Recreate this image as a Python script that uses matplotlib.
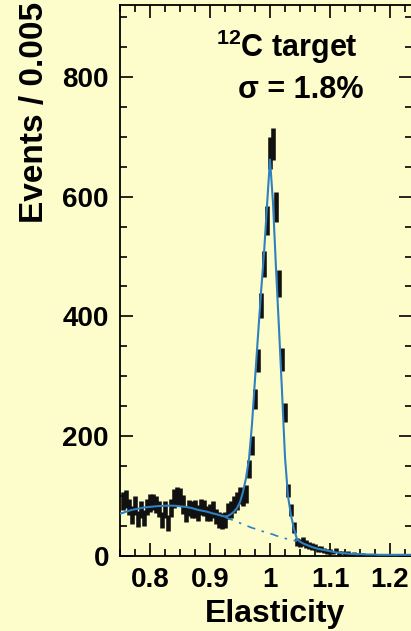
import numpy as np
import matplotlib
matplotlib.use("Agg")
import matplotlib.pyplot as plt
from matplotlib.ticker import MultipleLocator, FuncFormatter

plt.rcParams['font.family'] = ['Liberation Sans', 'DejaVu Sans']
plt.rcParams['font.weight'] = 'bold'
plt.rcParams['mathtext.fontset'] = 'custom'
plt.rcParams['mathtext.rm'] = 'Liberation Sans:bold'
plt.rcParams['mathtext.bf'] = 'Liberation Sans:bold'

# histogram, 0.005 wide bins, centres from 0.755 to 1.235
bin_first = 0.755
bin_width = 0.005
counts = [
    92, 95, 82, 68, 85, 62, 78, 63, 82, 88,
    90, 86, 78, 60, 78, 55, 80, 96, 100, 98,
    86, 70, 80, 78, 79, 72, 82, 80, 71, 72,
    77, 66, 60, 58, 60, 75, 78, 86, 92, 101,
    98, 104, 146, 185, 262, 327, 418, 488, 560, 673,
    688, 583, 455, 328, 239, 109, 77, 48, 23, 22,
    24, 20, 18, 16, 15, 12, 11, 9, 7, 8,
    6, 10, 5, 6, 4, 5, 3, 4, 3, 2,
    3, 2, 2, 1, 2, 1, 2, 1, 1, 1,
    2, 1, 1, 1, 1, 1, 1,
]
errors = [
    15, 15, 13, 15, 16, 13, 14, 13, 14, 15,
    14, 15, 13, 13, 14, 13, 15, 16, 15, 15,
    16, 14, 14, 14, 15, 13, 14, 14, 13, 14,
    14, 13, 13, 13, 13, 13, 14, 14, 15, 15,
    15, 15, 15, 16, 17, 19, 21, 22, 24, 26,
    27, 25, 22, 19, 16, 11, 10, 9, 7, 7,
    7, 6, 6, 6, 5, 5, 5, 4, 4, 4,
    3, 4, 3, 3, 3, 3, 2, 3, 2, 2,
    2, 2, 2, 1, 2, 1, 2, 1, 1, 1,
    2, 1, 1, 1, 1, 1, 1,
]

# fit: peak + background, sampled every 0.005 from 0.75
fit_first = 0.75
fit_total = [
    71, 72, 74, 75.5, 77, 78, 79, 80, 81, 81.5,
    82, 82.5, 83, 83.5, 83.5, 84, 84, 84, 84, 83.5,
    83, 82.5, 82, 81, 80, 78.5, 77, 76, 75, 74,
    72.5, 71, 70, 68.5, 67, 66, 67, 70, 74, 80,
    90, 107, 130, 162, 220, 295, 368, 440, 505, 585,
    662, 590, 480, 380, 275, 165, 100, 68, 45, 28,
    24, 21, 19, 17, 15, 13.5, 12, 11, 10, 9,
    8, 7, 6, 5.5, 5, 4.5, 4, 3.5, 3.5, 3,
    3, 3, 2.5, 2.5, 2.5, 2.5, 2, 2, 2, 2,
    2, 2, 2, 2, 2, 2, 2, 2,
]
# background part under the peak, from 0.925 to 1.045
bkg_first = 0.925
fit_bkg = [
    65, 63, 61, 59, 57, 55, 53, 51, 49, 47,
    45.5, 44, 42, 40.5, 39, 37.5, 36, 34, 32.5, 31,
    29.5, 28, 27, 26, 25,
]

x_data = bin_first + bin_width * np.arange(len(counts))
x_fit = fit_first + bin_width * np.arange(len(fit_total))
x_bkg = bkg_first + bin_width * np.arange(len(fit_bkg))

bg = '#fdfdcc'
blue = '#2e80bf'

fig = plt.figure(figsize=(4.11, 6.31), dpi=100, facecolor=bg)
ax = fig.add_axes([120 / 411, 75 / 631, 291.6 / 411, 551 / 631])
ax.set_facecolor(bg)

ax.errorbar(x_data, counts, yerr=errors, fmt='none', ecolor='#111111',
            elinewidth=3.3, capsize=0, zorder=2)
ax.plot(x_fit, fit_total, color=blue, lw=1.5, zorder=3)
ax.plot(x_bkg, fit_bkg, color=blue, lw=1.2, dashes=(5, 4, 1.5, 4), zorder=3)

ax.set_xlim(0.75, 1.236)
ax.set_ylim(0, 920)

ax.xaxis.set_major_locator(MultipleLocator(0.1))
ax.xaxis.set_minor_locator(MultipleLocator(0.025))
ax.yaxis.set_major_locator(MultipleLocator(200))
ax.yaxis.set_minor_locator(MultipleLocator(50))
ax.xaxis.set_major_formatter(FuncFormatter(lambda v, p: '%g' % round(v, 3)))

ax.tick_params(which='both', direction='in', top=True, right=True,
               width=1.2, labelsize=20, pad=8)
ax.tick_params(which='major', length=9.5)
ax.tick_params(which='minor', length=5)
for s in ax.spines.values():
    s.set_linewidth(1.3)

fig.text(35 / 411, 1 - 2 / 631, 'Events / 0.005', rotation=90,
         ha='center', va='top', fontsize=24, fontweight='bold')
fig.text(275 / 411, 9 / 631, 'Elasticity', ha='center', va='baseline',
         fontsize=23, fontweight='bold')

fig.text(216 / 411, 1 - 57 / 631, r'$^{12}$C target', ha='left',
         va='baseline', fontsize=22, fontweight='bold')
fig.text(238 / 411, 1 - 98 / 631, '\u03c3 = 1.8%', ha='left',
         va='baseline', fontsize=22, fontweight='bold')

fig.savefig('out.png', dpi=100, facecolor=bg)
